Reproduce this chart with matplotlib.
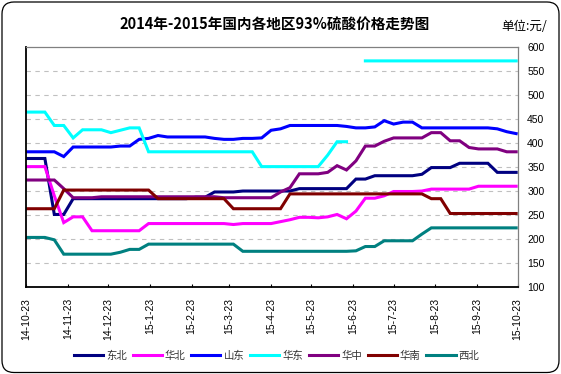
import matplotlib
matplotlib.use("Agg")
import matplotlib.pyplot as plt
import matplotlib.dates as mdates
from matplotlib.patches import FancyBboxPatch
from matplotlib.transforms import IdentityTransform
import numpy as np
import pandas as pd

plt.rcParams['font.family'] = ['Liberation Sans', 'Noto Sans CJK SC', 'DejaVu Sans']

title = "2014年-2015年国内各地区93%硫酸价格走势图"
unit_label = "单位:元/"

dates = pd.date_range("2014-10-23", periods=53, freq="7D")

dongbei = [368, 368, 368, 251, 251, 284, 284, 284, 284, 284, 284, 284, 284, 284, 284, 284, 284, 284,
           287, 287, 298, 298, 298, 300, 300, 300, 300, 300, 300, 305, 305, 305, 305, 305, 305,
           325, 325, 332, 332, 332, 332, 332, 335, 349, 349, 349, 358, 358, 358, 358, 339, 339, 339]
huabei = [351, 351, 351, 290, 234, 246, 246, 217, 217, 217, 217, 217, 217, 232, 232, 232, 232, 232,
          232, 232, 232, 232, 230, 232, 232, 232, 232, 236, 240, 245, 245, 244, 246, 251, 242,
          258, 285, 285, 290, 299, 299, 299, 300, 304, 304, 304, 304, 304, 310, 310, 310, 310, 310]
shandong = [382, 382, 382, 382, 372, 392, 392, 392, 392, 392, 394, 394, 408, 410, 416, 413, 413, 413,
            413, 413, 410, 408, 408, 410, 410, 411, 427, 430, 437, 437, 437, 437, 437, 437, 435,
            432, 432, 434, 447, 440, 444, 444, 432, 432, 432, 432, 432, 432, 432, 432, 430, 424, 420]
huadong = [465, 465, 465, 437, 437, 411, 428, 428, 428, 422, 427, 432, 432, 382, 382, 382, 382, 382,
           382, 382, 382, 382, 382, 382, 382, 351, 351, 351, 351, 351, 351, 351, 375, 403, 403,
           np.nan, 572, 572, 572, 572, 572, 572, 572, 572, 572, 572, 572, 572, 572, 572, 572, 572, 572]
huazhong = [323, 323, 323, 323, 305, 286, 286, 286, 288, 288, 288, 288, 288, 288, 288, 288, 288, 288,
            288, 288, 288, 286, 286, 286, 286, 286, 286, 298, 307, 336, 336, 336, 339, 353, 344,
            363, 394, 394, 404, 411, 411, 411, 411, 422, 422, 405, 405, 391, 388, 388, 388, 382, 382]
huanan = [263, 263, 263, 263, 302, 302, 302, 302, 302, 302, 302, 302, 302, 302, 284, 284, 284, 284,
          284, 284, 284, 284, 263, 263, 263, 263, 263, 263, 294, 294, 294, 294, 294, 294, 294,
          294, 294, 294, 294, 294, 294, 294, 294, 284, 284, 253, 253, 253, 253, 253, 253, 253, 253]
xibei = [203, 203, 203, 198, 168, 168, 168, 168, 168, 168, 172, 178, 178, 189, 189, 189, 189, 189,
         189, 189, 189, 189, 189, 174, 174, 174, 174, 174, 174, 174, 174, 174, 174, 174, 174,
         175, 184, 184, 196, 196, 196, 196, 210, 223, 223, 223, 223, 223, 223, 223, 223, 223, 223]

series_names = ["东北", "华北", "山东", "华东", "华中", "华南", "西北"]
series_values = [dongbei, huabei, shandong, huadong, huazhong, huanan, xibei]
series_colors = ["#000080", "#FF00FF", "#0000FF", "#00FFFF", "#800080", "#800000", "#008080"]

tick_dates = ["2014-10-23", "2014-11-23", "2014-12-23", "2015-01-23", "2015-02-23", "2015-03-23",
              "2015-04-23", "2015-05-23", "2015-06-23", "2015-07-23", "2015-08-23", "2015-09-23",
              "2015-10-23"]
tick_labels = ["14-10-23", "14-11-23", "14-12-23", "15-1-23", "15-2-23", "15-3-23", "15-4-23",
               "15-5-23", "15-6-23", "15-7-23", "15-8-23", "15-9-23", "15-10-23"]
y_ticks = [100, 150, 200, 250, 300, 350, 400, 450, 500, 550, 600]

fig = plt.figure(figsize=(5.61, 3.74), dpi=100)
ax = fig.add_axes([0.0464, 0.2334, 0.9225 - 0.0464, 0.873 - 0.2334])

for name, vals, col in zip(series_names, series_values, series_colors):
    ax.plot(dates, vals, color=col, lw=2.2, label=name, solid_joinstyle='miter')

ax.set_xlim(pd.Timestamp("2014-10-23"), pd.Timestamp("2015-10-23"))
ax.set_ylim(100, 600)
ax.set_yticks(y_ticks)
ax.yaxis.tick_right()
ax.tick_params(axis='y', length=0, pad=7, labelsize=7.5)
for v in y_ticks[1:-1]:
    ax.axhline(v, color="#c0c0c0", lw=0.8, ls=(0, (4, 4)), zorder=0)

ax.set_xticks([pd.Timestamp(d) for d in tick_dates])
ax.set_xticklabels(tick_labels, rotation=90, fontsize=7.5)
ax.tick_params(axis='x', direction='in', length=2.5, width=0.8, pad=8)

for s in ['left', 'bottom']:
    ax.spines[s].set_color('black')
    ax.spines[s].set_linewidth(1.3)
for s in ['top', 'right']:
    ax.spines[s].set_color('#808080')
    ax.spines[s].set_linewidth(0.9)

fig.text(0.49, 0.934, title, ha='center', va='center', fontsize=10.5, fontweight='bold',
         family=['Noto Sans CJK SC', 'DejaVu Sans'])
fig.text(0.975, 0.929, unit_label, ha='right', va='center', fontsize=9,
         family=['Noto Sans CJK SC', 'DejaVu Sans'])

leg = fig.legend(loc='center', bbox_to_anchor=(0.493, 0.049), ncol=7, frameon=False,
                 fontsize=7.5, handlelength=2.8, handletextpad=0.3, columnspacing=0.55,
                 prop={'family': ['Noto Sans CJK SC', 'DejaVu Sans'], 'size': 7.5})
for t in leg.get_texts():
    t.set_color('#333333')

frame = FancyBboxPatch((2, 1.5), 557, 370.5, boxstyle="round,pad=0,rounding_size=12",
                       transform=IdentityTransform(), fill=False, edgecolor='black', lw=0.9)
fig.add_artist(frame)

fig.savefig("out.png", dpi=100)
